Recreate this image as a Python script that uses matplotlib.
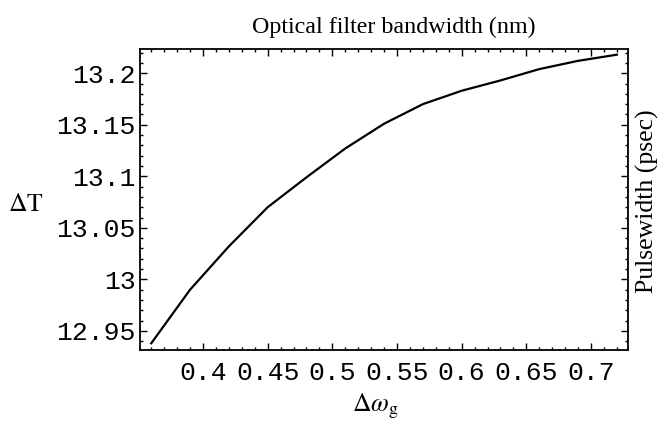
import matplotlib
matplotlib.use("Agg")
import matplotlib.pyplot as plt
from matplotlib.ticker import MultipleLocator, FuncFormatter

# filter bandwidth (normalized) vs. output pulsewidth
dw_g = [0.36, 0.39, 0.42, 0.45, 0.48, 0.51, 0.54, 0.57, 0.60, 0.63, 0.66, 0.69, 0.72]
delta_T = [12.938, 12.990, 13.032, 13.070, 13.099, 13.127, 13.151, 13.170,
           13.183, 13.193, 13.204, 13.212, 13.218]

x_ticks = [0.4, 0.45, 0.5, 0.55, 0.6, 0.65, 0.7]
y_ticks = [12.95, 13.0, 13.05, 13.1, 13.15, 13.2]

plt.rcParams['mathtext.fontset'] = 'stix'

fig = plt.figure(figsize=(6.61, 4.23), dpi=100)
ax = fig.add_axes([140/661, 73/423, 488/661, 301/423])

ax.plot(dw_g, delta_T, color='black', linewidth=1.6)

ax.set_xlim(0.3513, 0.7286)
ax.set_ylim(12.9315, 13.2235)

ax.set_xticks(x_ticks)
ax.set_yticks(y_ticks)
ax.xaxis.set_minor_locator(MultipleLocator(0.01))
ax.yaxis.set_minor_locator(MultipleLocator(0.01))

def mma_fmt(v, pos):
    s = ('%.2f' % v).rstrip('0')
    if s.endswith('.'):
        s = s[:-1]
    return s

ax.xaxis.set_major_formatter(FuncFormatter(mma_fmt))
ax.yaxis.set_major_formatter(FuncFormatter(mma_fmt))

ax.tick_params(which='both', direction='in', top=True, right=True, width=1.0)
ax.tick_params(which='major', length=5)
ax.tick_params(which='minor', length=2.5)
ax.tick_params(axis='x', which='major', pad=8)
ax.tick_params(axis='y', which='major', pad=3)
for lab in ax.get_xticklabels() + ax.get_yticklabels():
    lab.set_fontfamily('Liberation Mono')
    lab.set_fontsize(19)

for sp in ax.spines.values():
    sp.set_linewidth(1.3)

fig.text(394/661, 1 - 27/423, 'Optical filter bandwidth (nm)', ha='center', va='center',
         fontfamily='Liberation Serif', fontsize=17.3)
fig.text(26/661, 1 - 204/423, r'$\Delta\mathrm{T}$', ha='center', va='center', fontsize=18.5)
fig.text(375/661, 1 - 406/423, r'$\Delta\omega_{\mathrm{g}}$', ha='center', va='center', fontsize=18.5)
fig.text(647/661, 1 - 201/423, 'Pulsewidth (psec)', ha='center', va='center', rotation=90,
         fontfamily='Liberation Serif', fontsize=18.5)

fig.savefig('out.png', dpi=100)
